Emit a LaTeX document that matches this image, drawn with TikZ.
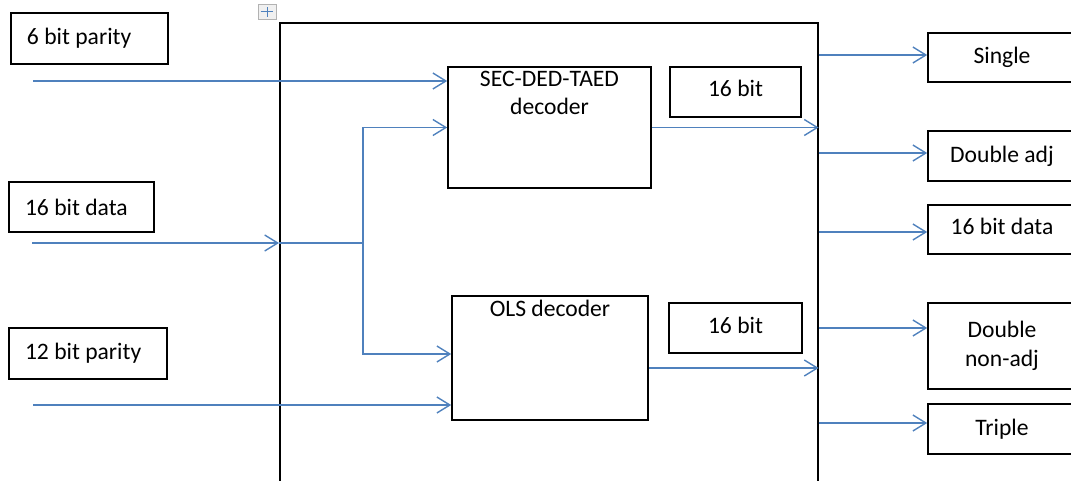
\documentclass[tikz,border=0pt]{standalone}
\usepackage{fontspec}
\setmainfont{Carlito}
\usetikzlibrary{arrows.meta, positioning, calc}
\definecolor{sigblue}{RGB}{79,129,189}
\newcommand{\lefttext}[2]{\makebox[#1pt][l]{#2}}

\begin{document}
\begin{tikzpicture}[x=1pt, y=-1pt,
      box/.style={draw=black, line width=1.6pt, rectangle, inner sep=0pt},
      lbl/.style={font=\fontsize{23.6}{27.5}\selectfont},
      inbox/.style={box, lbl, inner xsep=16pt},
      outbox/.style={box, lbl, minimum width=148, align=center},
      sig/.style={draw=sigblue, line width=1.4pt},
      >={Straight Barb[length=13pt, width=16pt, line width=1.4pt]}]
    \useasboundingbox (0,0) rectangle (1071,481);
    % inputs
    \node[inbox, minimum height=51] (par6) at (89.5,38.5) {\lefttext{125}{6 bit parity}};
    \node[inbox, minimum height=50] (dat16) at (81.5,207) {\lefttext{113}{16 bit data}};
    \node[inbox, minimum height=51] (par12) at (88,353.5) {\lefttext{126}{12 bit parity}};
    % decoder frame and its table handle
    \node[box, minimum width=538, minimum height=500, anchor=north west] (dec) at (279,22) {};
    \node[draw=gray!60, fill=gray!12, line width=0.8pt, minimum width=18, minimum height=15,
          inner sep=0pt] (hdl) at (267,12) {};
    \draw[sig, line width=1pt] ([xshift=3pt]hdl.west) -- ([xshift=-3pt]hdl.east);
    \draw[sig, line width=1pt] ([yshift=-3pt]hdl.north) -- ([yshift=3pt]hdl.south);
    \node[box, minimum width=203, minimum height=121,
          label={[lbl, anchor=north, align=center, inner sep=5pt]north:SEC-DED-TAED\\decoder}]
          (sec) at (549.5,127.5) {};
    \node[box, minimum width=196, minimum height=124,
          label={[lbl, anchor=north, inner sep=5pt]north:OLS decoder}]
          (ols) at (550,358) {};
    \node[box, lbl, minimum width=131, minimum height=50, text depth=7pt] (bitA) at (735.5,92) {16 bit};
    \node[box, lbl, minimum width=133, minimum height=50, text depth=5pt] (bitB) at (735.5,328) {16 bit};
    % outputs
    \node[outbox, minimum height=49] (outS) at (1002,57.5) {Single};
    \node[outbox, minimum height=50] (outDA) at (1002,156) {Double adj};
    \node[outbox, minimum height=49, text depth=6pt] (outD16) at (1002,229.5) {16 bit data};
    \node[outbox, minimum height=86] (outDN) at (1002,346) {Double\\[1pt]non-adj};
    \node[outbox, minimum height=50] (outT) at (1002,429) {Triple};

    \coordinate (p6s) at (33,81);
    \coordinate (d16s) at (32,243);
    \coordinate (p12s) at (33,405);
    \coordinate (jn) at (363,243);
    \draw[sig, ->] (p6s) -- (p6s -| sec.west);
    \draw[sig, ->] (d16s) -- (d16s -| dec.west);
    \draw[sig] (d16s -| dec.west) -- (jn);
    \draw[sig, ->] (jn) |- (sec.west);
    \draw[sig, ->] (jn) |- ([yshift=4pt]ols.west);
    \draw[sig, ->] (p12s) -- (p12s -| ols.west);
    \draw[sig, ->] (sec.east) -- (sec.east -| dec.east);
    \draw[sig, ->] ([yshift=-10pt]ols.east) -- ([yshift=-10pt]ols.east -| dec.east);
    \foreach \o/\y in {outS/55, outDA/153, outD16/232, outDN/328, outT/423} {
      \draw[sig, ->] (dec.east |- 0,\y) -- (\o.west |- 0,\y);
    }
  \end{tikzpicture}
\end{document}
